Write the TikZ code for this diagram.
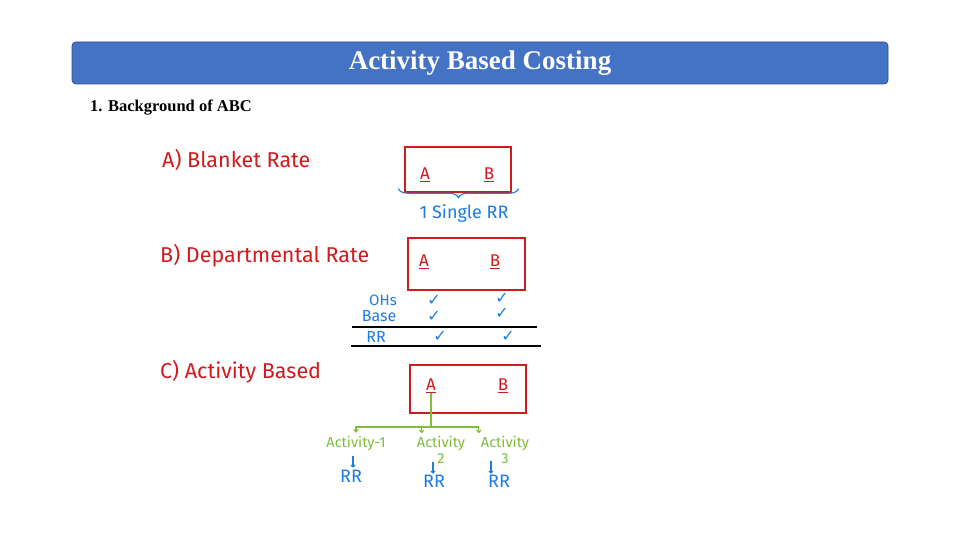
\documentclass[tikz,border=0pt]{standalone}
\usepackage{fontspec}
\setmainfont{Liberation Serif}
\newfontfamily\hand{Fira Sans}
\newfontfamily\symb{DejaVu Sans}
\usetikzlibrary{positioning, calc, arrows.meta, decorations.pathreplacing}
\definecolor{titleblue}{HTML}{4472C4}
\definecolor{titleedge}{HTML}{2F528F}
\definecolor{inkred}{HTML}{D11A1E}
\definecolor{inkblue}{HTML}{1E7BE3}
\definecolor{inkgreen}{HTML}{7DBE3B}
\tikzset{
    hand/.style={font=\hand\fontsize{#1}{#1}\selectfont, inner sep=0pt},
    redbox/.style={draw=inkred, line width=1.4pt, inner sep=0pt},
    letter/.style={hand=17, text=inkred},
    tick/.style={font=\symb\fontsize{16}{16}\selectfont, text=inkblue, inner sep=0pt},
    rule/.style={line width=1.3pt},
    flow/.style={draw=inkgreen, line width=1.2pt, -{To[length=3.5pt,width=5pt]}},
    down/.style={draw=inkblue, line width=1.2pt, -{To[length=3pt,width=5pt]}}
}
\begin{document}
\begin{tikzpicture}[x=1pt, y=-1pt]
        \useasboundingbox[fill=white] (0,0) rectangle (960,540);
        % heading
        \node[draw=titleedge, fill=titleblue, rounded corners=4pt, line width=0.8pt,
            minimum width=816pt, minimum height=42pt, text=white,
            font=\bfseries\fontsize{27}{27}\selectfont] (title) at (480,63) {Activity Based Costing};
        \node[anchor=west, font=\bfseries\fontsize{16.5}{16.5}\selectfont, inner sep=0pt] (sec) at (90,108) {1. Background of ABC};

        % A) blanket rate
        \node[hand=21.5, text=inkred, anchor=west] (blanket) at (162,160) {A) Blanket Rate};
        \node[redbox, minimum width=106pt, minimum height=45pt] (box1) at (458,169.5) {};
        \node[letter] (a1) at (425,175) {\underline{A}};
        \node[letter] (b1) at (489,175) {\underline{B}};
        \draw[inkblue, line width=1.1pt, decorate, decoration={brace, mirror, amplitude=9pt}]
            ($(box1.south west)+(-6,-4)$) -- ($(box1.south east)+(7,-4)$);
        \node[hand=18, text=inkblue] (single) at (464,213) {1 Single RR};

        % B) departmental rate
        \node[hand=21.5, text=inkred, anchor=west] (dept) at (160,256) {B) Departmental Rate};
        \node[redbox, minimum width=117pt, minimum height=52pt] (box2) at (466.5,264) {};
        \node[letter] (a2) at (424,262) {\underline{A}};
        \node[letter] (b2) at (495,262) {\underline{B}};
        \node[hand=15, text=inkblue] (ohs) at (383,300) {OHs};
        \node[hand=16, text=inkblue] (base) at (379,316) {Base};
        \node[hand=16, text=inkblue] (rr) at (376,337) {RR};
        \node[tick] (ohsa) at (434,300) {✓};
        \node[tick] (ohsb) at (502,298) {✓};
        \node[tick] (basea) at (434,316) {✓};
        \node[tick] (baseb) at (502,313) {✓};
        \node[tick] (rra) at (440,336) {✓};
        \node[tick] (rrb) at (508,336) {✓};
        \draw[rule] (352,327) -- (537,327);
        \draw[rule] (351,346) -- (541,346);

        % C) activity based
        \node[hand=21.5, text=inkred, anchor=west] (abc) at (160,372) {C) Activity Based};
        \node[redbox, minimum width=116pt, minimum height=48pt] (box3) at (468,389) {};
        \node[letter] (a3) at (431,386) {\underline{A}};
        \node[letter] (b3) at (503,386) {\underline{B}};
        \node[hand=14.5, text=inkgreen] (act1) at (356,443) {Activity-1};
        \node[hand=14.5, text=inkgreen, align=center] (act2) at (441,450) {Activity\\[1.5pt]2};
        \node[hand=14.5, text=inkgreen, align=center] (act3) at (505,450) {Activity\\[1.5pt]3};
        \coordinate (fork) at (431,427);
        \draw[inkgreen, line width=1.2pt] (a3.south) -- (fork);
        \draw[flow] (fork) -| ($(act1.north)+(0,-3)$);
        \draw[flow] (fork) -| ($(act2.north west)+(5,-3)$);
        \draw[flow] (fork) -| ($(act3.north west)+(-2,-3)$);
        \node[hand=18, text=inkblue] (rr1) at (351,476) {RR};
        \node[hand=18, text=inkblue] (rr2) at (434,481) {RR};
        \node[hand=18, text=inkblue] (rr3) at (499,481) {RR};
        \draw[down] ($(rr1.north)+(2,-14)$) -- ($(rr1.north)+(2,-2)$);
        \draw[down] ($(rr2.north)+(-1,-13)$) -- ($(rr2.north)+(-1,-1)$);
        \draw[down] ($(rr3.north)+(-8,-14)$) -- ($(rr3.north)+(-8,-1)$);
\end{tikzpicture}
\end{document}
